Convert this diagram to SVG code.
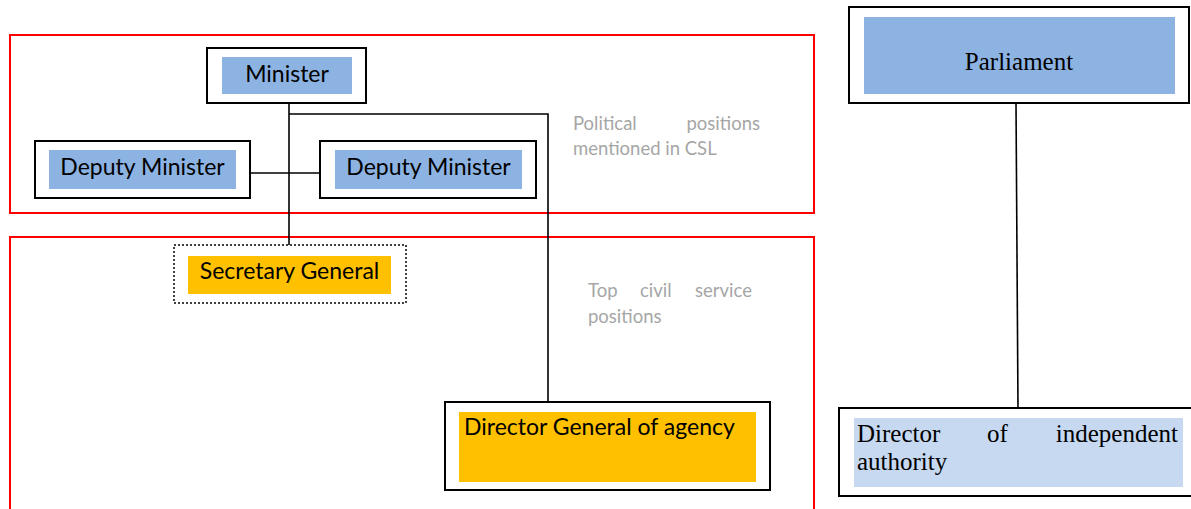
<svg xmlns="http://www.w3.org/2000/svg" width="1191" height="509" viewBox="0 0 1191 509">
<style>
.region{fill:none;stroke:#ff0000;stroke-width:2}
.outer{fill:#ffffff;stroke:#000000;stroke-width:2}
.dotted{fill:#ffffff;stroke:#000000;stroke-width:1.5;stroke-dasharray:2 2}
.blue{fill:#8db3e2}
.lblue{fill:#c6d9f1}
.orange{fill:#ffc000}
.sans{font-family:Lato,"Liberation Sans",sans-serif;font-size:23px;fill:#000000}
.serif{font-family:"Liberation Serif","Times New Roman",serif;font-size:25px;fill:#000000}
.note{font-family:Lato,"Liberation Sans",sans-serif;font-size:18.5px;fill:#a6a6a6}
.conn{fill:none;stroke:#000000;stroke-width:1.6}
</style>
<rect width="1191" height="509" fill="#ffffff"/>
<g id="regions">
<rect class="region" x="10" y="35" width="804" height="178"/>
<rect class="region" x="10" y="237" width="804" height="290"/>
</g>
<g id="connectors">
<line class="conn" x1="289" y1="103" x2="289" y2="245"/>
<polyline class="conn" points="289,114 548,114 548,402"/>
<line class="conn" x1="250" y1="173" x2="320" y2="173"/>
<line class="conn" x1="1016" y1="103" x2="1018" y2="408"/>
</g>
<g id="minister">
<rect class="outer" x="207" y="48" width="159" height="55"/>
<rect class="blue" x="222" y="57" width="130" height="37"/>
<text class="sans" x="287" y="82" text-anchor="middle">Minister</text>
</g>
<g id="deputy-minister-1">
<rect class="outer" x="35" y="141" width="215" height="57"/>
<rect class="blue" x="49" y="150" width="187" height="39"/>
<text class="sans" x="142.5" y="175" text-anchor="middle">Deputy Minister</text>
</g>
<g id="deputy-minister-2">
<rect class="outer" x="320" y="141" width="216" height="57"/>
<rect class="blue" x="335" y="150" width="187" height="39"/>
<text class="sans" x="428.5" y="175" text-anchor="middle">Deputy Minister</text>
</g>
<g id="secretary-general">
<rect class="dotted" x="174" y="245" width="232" height="58"/>
<rect class="orange" x="188" y="256" width="203" height="38"/>
<text class="sans" x="289.5" y="279" text-anchor="middle">Secretary General</text>
</g>
<g id="director-general">
<rect class="outer" x="445" y="402" width="325" height="88"/>
<rect class="orange" x="459" y="412" width="297" height="70"/>
<text class="sans" x="464" y="435">Director General of agency</text>
</g>
<g id="parliament">
<rect class="outer" x="849" y="7" width="340" height="96"/>
<rect class="blue" x="864" y="17" width="311" height="77"/>
<text class="serif" x="1019" y="70" text-anchor="middle">Parliament</text>
</g>
<g id="director-independent">
<rect class="outer" x="839" y="408" width="360" height="88"/>
<rect class="lblue" x="854" y="418" width="329" height="69"/>
<text class="serif" x="857" y="442">Director</text>
<text class="serif" x="987" y="442">of</text>
<text class="serif" x="1178" y="442" text-anchor="end">independent</text>
<text class="serif" x="857" y="470">authority</text>
</g>
<g id="labels">
<text class="note" x="573" y="130">Political</text>
<text class="note" x="760" y="130" text-anchor="end">positions</text>
<text class="note" x="573" y="155">mentioned in CSL</text>
<text class="note" x="588" y="297">Top</text>
<text class="note" x="640" y="297">civil</text>
<text class="note" x="752" y="297" text-anchor="end">service</text>
<text class="note" x="588" y="323">positions</text>
</g>
</svg>
